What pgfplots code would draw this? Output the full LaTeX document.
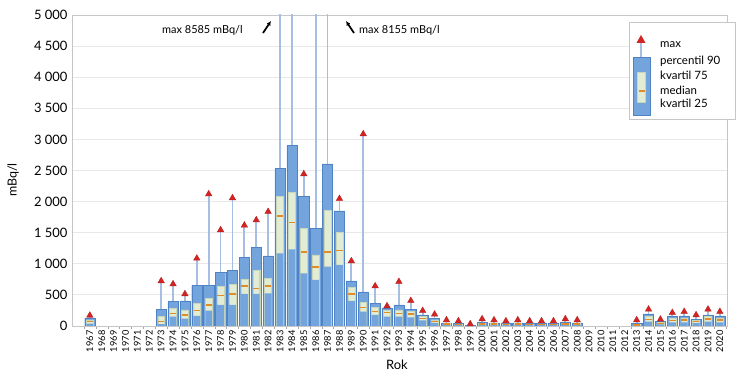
\documentclass[border=0pt]{standalone}
\usepackage{pgfplots}
\pgfplotsset{compat=1.18}
\usepackage{pgfplotstable}
\usetikzlibrary{arrows.meta}
\usepackage{fontspec}
\setmainfont{Lato}
\definecolor{barblue}{RGB}{115,165,220}
\definecolor{barborder}{RGB}{80,130,198}
\definecolor{lightbox}{RGB}{226,236,212}
\definecolor{lightedge}{RGB}{200,215,185}
\definecolor{whisk}{RGB}{165,190,225}
\definecolor{trired}{RGB}{212,35,35}
\definecolor{medorange}{RGB}{226,140,40}
\pgfplotstableread{
year p90 q75 med q25 max
1967 130 100 70 40 170
1973 268 150 70 32 724
1974 391 284 204 150 675
1975 402 260 177 120 515
1976 648 365 246 161 1088
1977 648 445 338 246 2122
1978 857 643 493 338 1544
1979 890 675 515 338 2058
1980 1099 750 643 515 1619
1981 1265 890 600 515 1704
1982 1126 767 643 526 1838
1983 2536 2090 1768 1169 8585
1984 2899 2144 1661 1233 6000
1985 2090 1571 1185 847 2444
1986 1571 1142 944 740 6000
1987 2605 1854 1185 954 8155
1988 1849 1506 1211 981 2047
1989 724 622 515 402 1045
1990 547 381 300 230 3087
1991 365 300 230 180 643
1992 284 250 214 150 322
1993 338 260 204 150 713
1994 268 230 193 140 407
1995 177 150 123 90 246
1996 123 100 70 50 188
1997 50 40 30 20 96
1998 45 35 25 15 80
1999 15 12 10 5 32
2000 55 45 35 25 113
2001 50 40 30 20 96
2002 45 35 25 15 80
2003 50 40 30 20 96
2004 45 35 25 15 80
2005 45 35 25 15 80
2006 45 35 25 15 80
2007 55 45 35 25 113
2008 50 40 30 20 96
2013 40 30 20 10 96
2014 193 150 107 70 268
2015 70 55 40 25 107
2016 150 120 90 60 214
2017 161 130 100 60 230
2018 107 90 70 45 177
2019 177 150 110 70 268
2020 161 130 100 60 230
}\data

\begin{document}
\begin{tikzpicture}
\path[use as bounding box] (0,0) rectangle (737bp,378bp);
\begin{axis}[
  at={(72bp,52bp)}, anchor=south west,
  scale only axis, width=655bp, height=311bp,
  xmin=1965.5, xmax=2020.6, ymin=0, ymax=5000,
  axis line style={draw=gray!45, line width=0.8bp},
  ymajorgrids, grid style={draw=gray!18, line width=0.9bp},
  ytick={0,500,1000,1500,2000,2500,3000,3500,4000,4500,5000},
  xtick={1967,1968,1969,1970,1971,1972,1973,1974,1975,1976,1977,1978,1979,1980,1981,1982,1983,1984,1985,1986,1987,1988,1989,1990,1991,1992,1993,1994,1995,1996,1997,1998,1999,2000,2001,2002,2003,2004,2005,2006,2007,2008,2009,2010,2011,2012,2013,2014,2015,2016,2017,2018,2019,2020},
  minor xtick={1966.5,1967.5,...,2020.5},
  tick align=outside,
  xtick pos=bottom, ytick pos=left,
  major tick length=0pt,
  minor tick length=3bp,
  minor tick style={draw=gray!70},
  scaled y ticks=false,
  /pgf/number format/assume math mode=true,
  /pgf/number format/1000 sep={\hspace{0.25em}},
  yticklabel style={font=\fontsize{13}{14}\selectfont, xshift=-1bp},
  xticklabel style={font=\fontsize{9.3}{10}\selectfont, rotate=90, anchor=east, /pgf/number format/1000 sep={}, /pgf/number format/precision=0, xshift=-1bp},
  clip=true,
]
\addplot[draw=none, mark=none, forget plot, error bars/.cd, y dir=plus, y explicit, error mark=none,
  error bar style={draw=whisk, line width=1.8bp}]
  table[x=year, y=p90, y error expr=\thisrow{max}-\thisrow{p90}]{\data};
\addplot[ybar, bar shift=0pt, bar width=0.86, fill=barblue, draw=barborder, line width=0.4bp] table[x=year, y=p90]{\data};
\addplot[ybar, bar shift=0pt, bar width=0.58, fill=lightbox, draw=lightedge, line width=0.4bp] table[x=year, y=q75]{\data};
\addplot[ybar, bar shift=0pt, bar width=0.58, fill=barblue, draw=none] table[x=year, y=q25]{\data};
\addplot[only marks, mark=-, mark size=3.2bp, mark options={draw=medorange, line width=1.6bp}] table[x=year, y=med]{\data};
\addplot[only marks, mark=triangle*, mark size=3.8bp, mark options={fill=trired, draw=trired!85!black, line width=0.3bp}] table[x=year, y=max]{\data};
\end{axis}
\begin{scope}[x=1bp, y=1bp]
  % axis titles
  \node[rotate=90, font=\fontsize{12.5}{14}\selectfont] at (13,198) {mBq/l};
  \node[font=\fontsize{13}{14}\selectfont] at (397,13) {Rok};
  % annotations
  \node[anchor=west, font=\fontsize{11}{12}\selectfont, inner sep=0] at (162,348) {max 8585 mBq/l};
  \draw[-{Latex[length=4.5bp,width=4.5bp]}, line width=1.8bp] (263,345) -- (271,357);
  \node[anchor=west, font=\fontsize{11}{12}\selectfont, inner sep=0] at (359,348) {max 8155 mBq/l};
  \draw[-{Latex[length=4.5bp,width=4.5bp]}, line width=1.8bp] (354,345) -- (346,357);
  % legend
  \draw[draw=gray!45, fill=white, line width=0.6bp] (629,259) rectangle (735,356);
  \draw[draw=whisk, line width=1.8bp] (641,321) -- (641,338);
  \fill[trired] (636.5,335) -- (645.5,335) -- (641,343) -- cycle;
  \draw[fill=barblue, draw=barborder, line width=0.4bp] (633,263) rectangle (650,321);
  \draw[fill=lightbox, draw=lightedge, line width=0.4bp] (637.5,276) rectangle (645.5,306);
  \draw[draw=medorange, line width=1.6bp] (638.5,287) -- (644.5,287);
  \begin{scope}[every node/.style={anchor=west, inner sep=0, font=\fontsize{11.5}{12}\selectfont}]
    \node at (660,333) {max};
    \node at (660,317) {percentil 90};
    \node at (660,303) {kvartil 75};
    \node at (660,288) {median};
    \node at (660,275) {kvartil 25};
  \end{scope}
\end{scope}
\end{tikzpicture}
\end{document}
